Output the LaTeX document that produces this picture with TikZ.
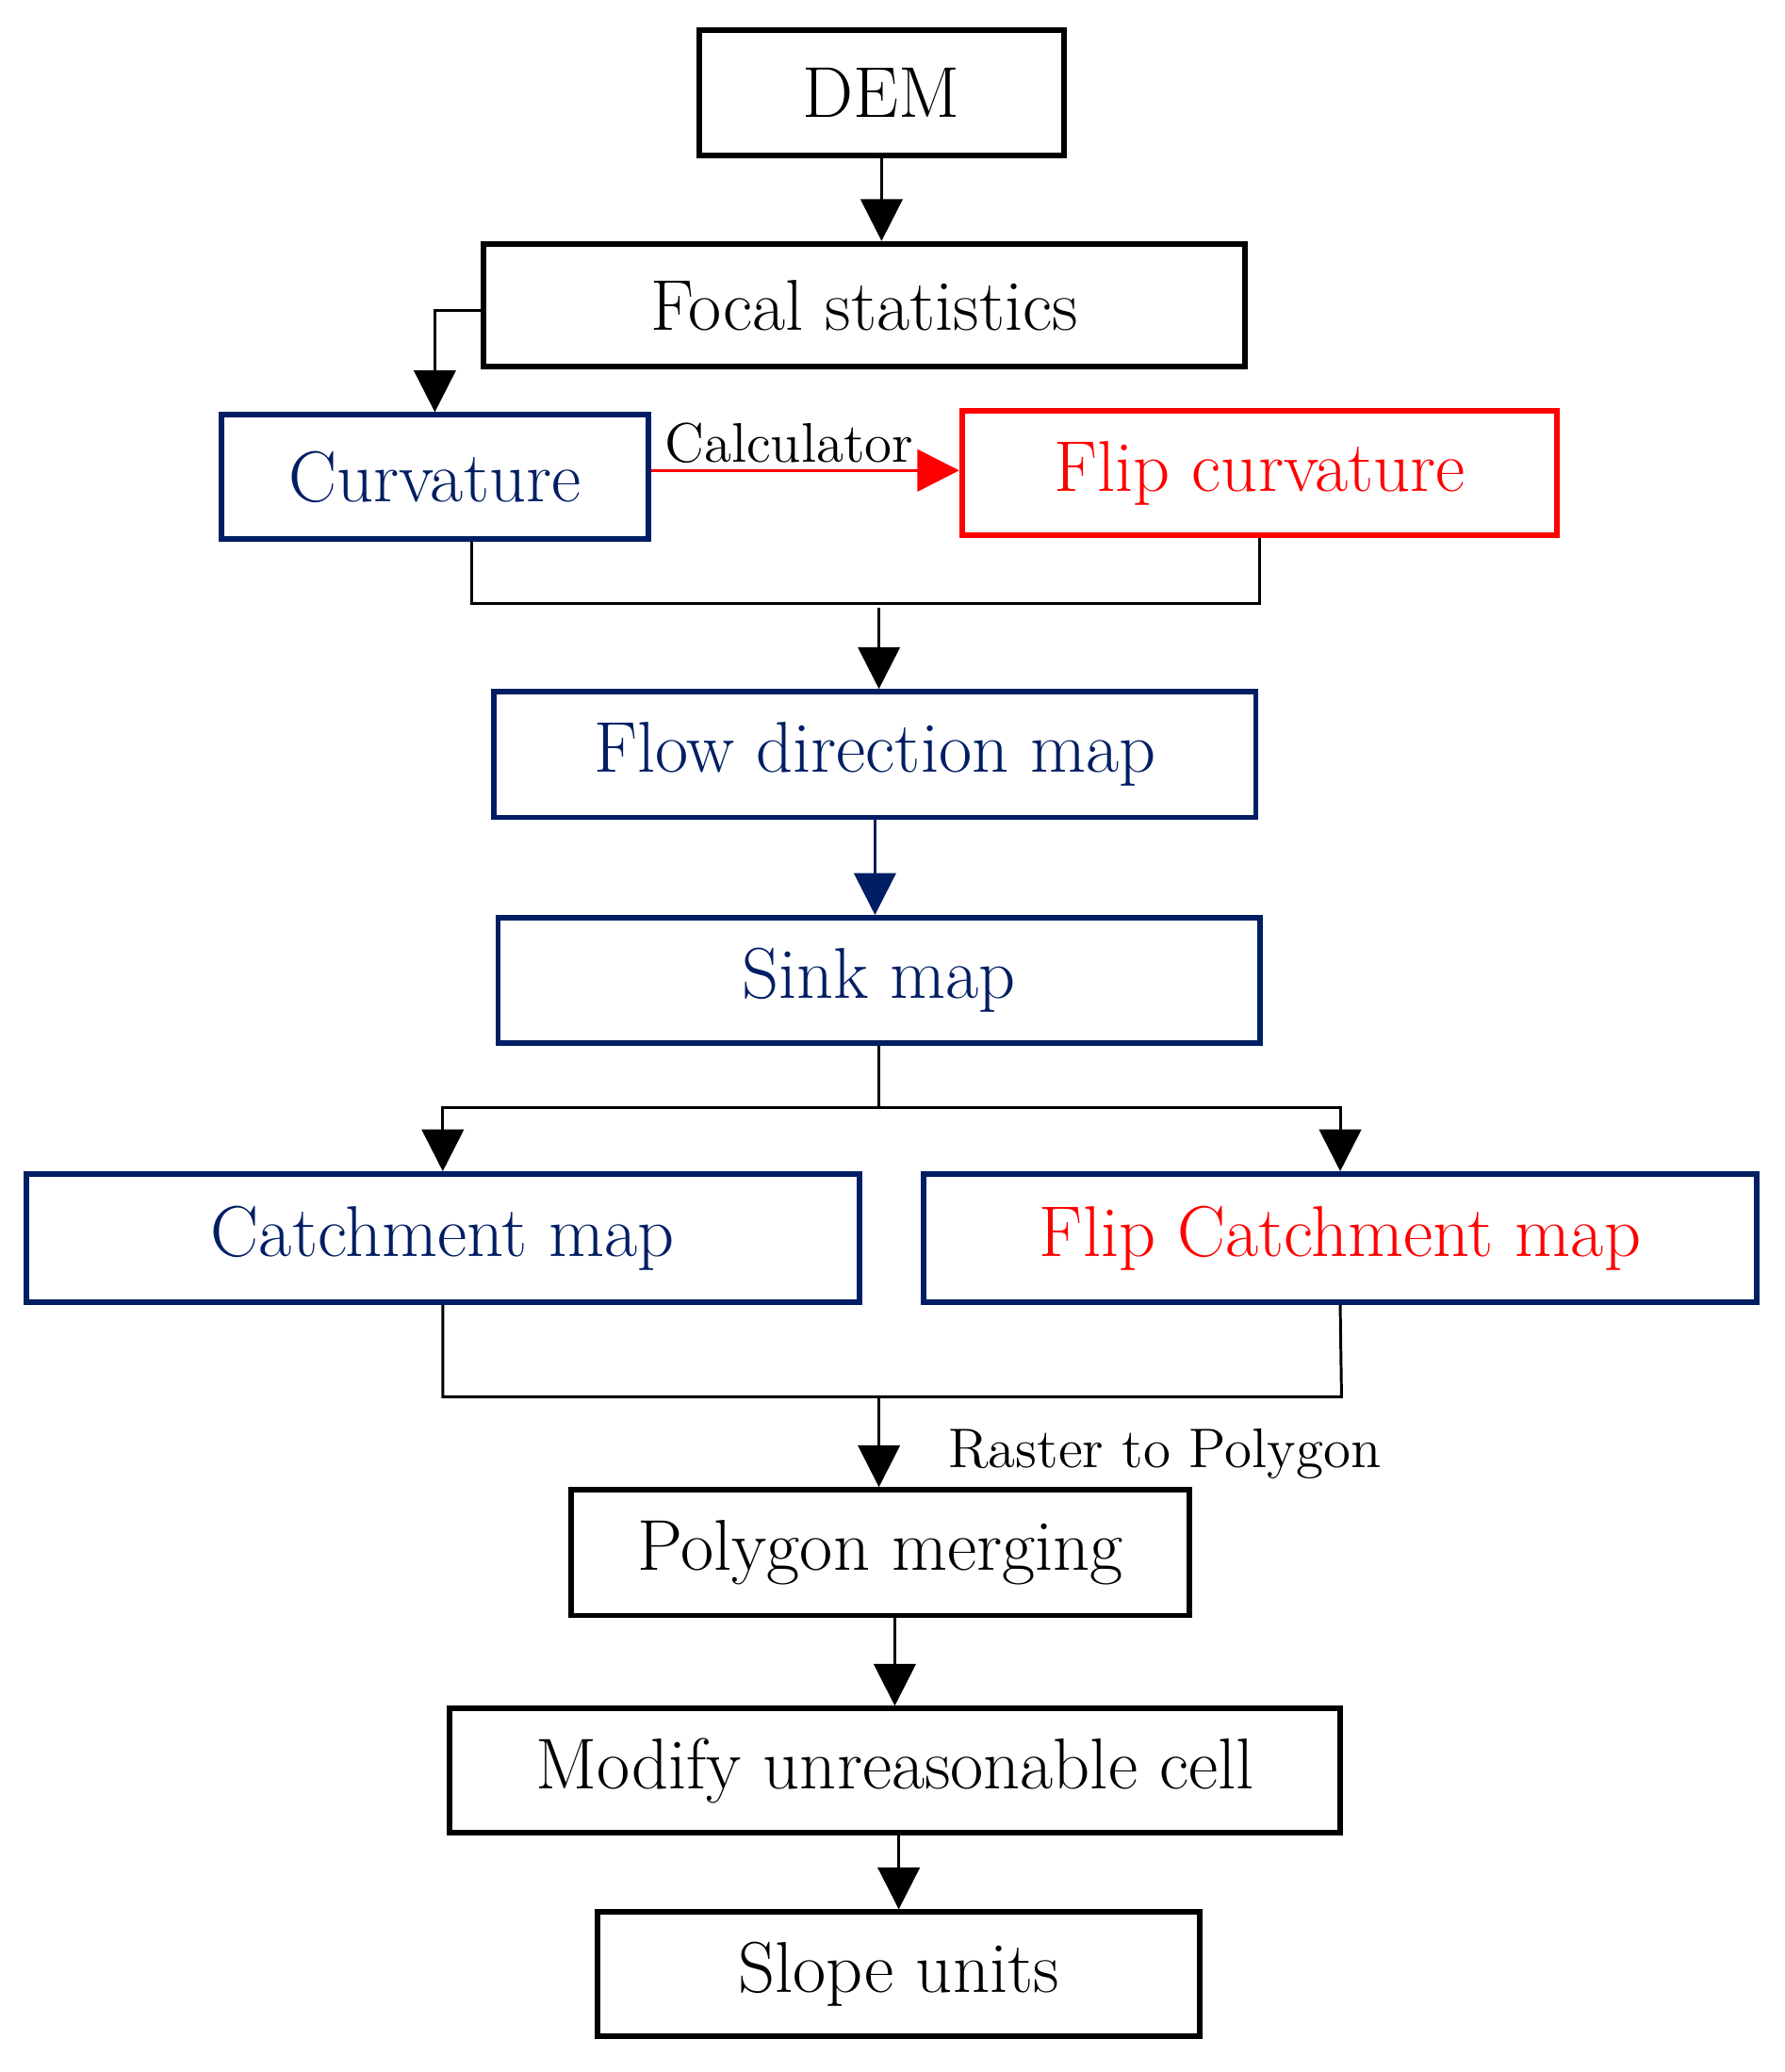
\documentclass[tikz,border=0pt]{standalone}
\usetikzlibrary{arrows.meta}
\definecolor{navy}{RGB}{0,30,100}
\definecolor{myred}{RGB}{255,0,0}
\begin{document}
\begin{tikzpicture}[x=0.01cm,y=-0.01cm,
  box/.style={draw,line width=1.2pt,inner sep=0pt,font=\fontsize{15.5}{18}\selectfont},
  arr/.style={line width=0.6pt,-{Triangle[width=9pt,length=9pt]}},
  ln/.style={line width=0.6pt},
  lbl/.style={font=\fontsize{12}{14}\selectfont}]
\useasboundingbox (0,0) rectangle (1350,1568);
\node[box,minimum width=276\pgflinewidth,minimum width=2.76cm,minimum height=0.95cm] (dem) at (667,70) {DEM};
\node[box,minimum width=5.76cm,minimum height=0.93cm] (focal) at (654,231) {Focal statistics};
\node[box,draw=navy,text=navy,minimum width=3.23cm,minimum height=0.94cm] (curv) at (329,361) {Curvature};
\node[box,draw=myred,text=myred,minimum width=4.50cm,minimum height=0.94cm] (flip) at (953,358) {Flip curvature};
\node[box,draw=navy,text=navy,minimum width=5.76cm,minimum height=0.95cm] (flow) at (662,571) {Flow direction map};
\node[box,draw=navy,text=navy,minimum width=5.76cm,minimum height=0.95cm] (sink) at (665,742) {Sink map};
\node[box,draw=navy,text=navy,minimum width=6.30cm,minimum height=0.97cm] (catch) at (335,937) {Catchment map};
\node[box,draw=navy,text=myred,minimum width=6.30cm,minimum height=0.97cm] (fcatch) at (1014,937) {Flip Catchment map};
\node[box,minimum width=4.67cm,minimum height=0.95cm] (poly) at (666,1175) {Polygon merging};
\node[box,minimum width=6.73cm,minimum height=0.94cm] (mod) at (677,1340) {Modify unreasonable cell};
\node[box,minimum width=4.55cm,minimum height=0.94cm] (slope) at (680,1494) {Slope units};

\draw[arr] (dem.south) -- (dem.south|-focal.north);
\coordinate (fl) at (focal.west|-0,235);
\draw[arr] (fl) -| (curv.north);
\draw[arr,draw=myred,fill=myred] (curv.east|-0,356) -- (flip.west|-0,356);
\node[lbl] (calc) at (597,335) {Calculator};
\coordinate (b1) at (357,457);
\coordinate (b2) at (953,457);
\draw[ln] (b1|-curv.south) -- (b1) -- (b2) -- (b2|-flip.south);
\coordinate (b3) at (665,460);
\draw[arr] (b3) -- (b3|-flow.north);
\draw[arr,draw=navy,fill=navy] (flow.south) -- (flow.south|-sink.north);
\coordinate (s1) at (665,838);
\draw[ln] (sink.south) -- (s1);
\draw[arr] (s1) -| (catch.north);
\draw[arr] (s1) -| (fcatch.north);
\coordinate (c1) at (335,1057);
\coordinate (c2) at (1015,1057);
\draw[ln] (catch.south) -- (c1) -- (c2) -- (fcatch.south);
\coordinate (c3) at (665,1057);
\draw[arr] (c3) -- (c3|-poly.north);
\node[lbl,anchor=west] (r2p) at (705,1100) {Raster to Polygon};
\draw[arr] (poly.south-|677,0) -- (mod.north-|677,0);
\draw[arr] (mod.south-|680,0) -- (slope.north);
\end{tikzpicture}
\end{document}
